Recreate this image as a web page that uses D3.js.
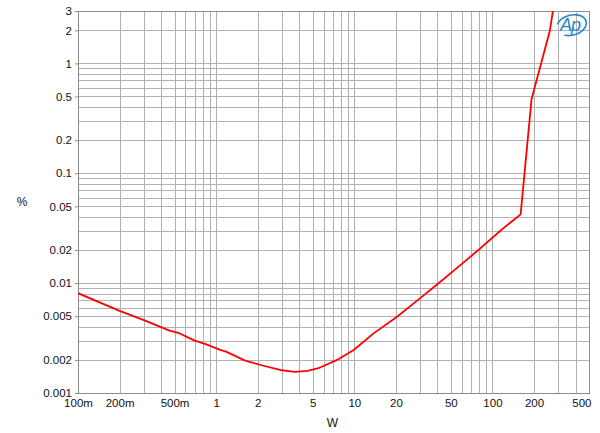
<!DOCTYPE html>
<html><head><meta charset="utf-8">
<script src="https://cdn.jsdelivr.net/npm/d3@7"></script>
<style>
body{margin:0;background:#fff;}
svg{display:block;font-family:"Liberation Sans",Arial,sans-serif;}
</style></head>
<body><svg id="c" width="600" height="433"></svg>
<script>
// Data (power in W, THD+N in %)
const powerW = [0.1, 0.2, 0.3, 0.46, 0.54, 0.7, 0.85, 1.07, 1.18, 1.62, 2.2, 2.9, 3.7, 4.6, 5.5, 7.5, 9.9, 13.8, 20.4, 30, 42, 58.6, 82, 114, 160, 192, 260, 274];
const thdPct = [0.0081, 0.0056, 0.0046, 0.0037, 0.0035, 0.0030, 0.00277, 0.00247, 0.00238, 0.00197, 0.00177, 0.00162, 0.00156, 0.00159, 0.00168, 0.0020, 0.00246, 0.00349, 0.00495, 0.0073, 0.0103, 0.0146, 0.0208, 0.0300, 0.0423, 0.475, 1.97, 3.0];
const xTickVals = [0.1, 0.2, 0.5, 1, 2, 5, 10, 20, 50, 100, 200, 500];
const xTickLabels = ["100m", "200m", "500m", "1", "2", "5", "10", "20", "50", "100", "200", "500"];
const yTickVals = [0.001, 0.002, 0.005, 0.01, 0.02, 0.05, 0.1, 0.2, 0.5, 1, 2, 3];
const yTickLabels = ["0.001", "0.002", "0.005", "0.01", "0.02", "0.05", "0.1", "0.2", "0.5", "1", "2", "3"];
const xLabel = "W", yLabel = "%";

const svg = d3.select("#c");
const L = 78, R = 589, T = 11, B = 393;
const x = d3.scaleLog().domain([0.1, 500]).range([L, R]);
const y = d3.scaleLog().domain([0.001, 3]).range([B, T]);

function minors(lo, hi) {
  const out = [];
  for (let e = -4; e <= 3; e++) for (let m = 1; m <= 9; m++) {
    const v = +(m * Math.pow(10, e)).toPrecision(6);
    if (v >= lo * 0.9999 && v <= hi * 1.0001) out.push(v);
  }
  return out;
}
const gridColor = "#b2b2b2";
const gx = svg.append("g").attr("transform", `translate(0,${B})`)
  .call(d3.axisBottom(x).tickValues(minors(0.1, 500)).tickSize(-(B - T)).tickFormat(""));
gx.select(".domain").remove();
gx.selectAll("line").attr("stroke", gridColor).attr("shape-rendering", "crispEdges");
const gy = svg.append("g").attr("transform", `translate(${L},0)`)
  .call(d3.axisLeft(y).tickValues(minors(0.001, 3)).tickSize(-(R - L)).tickFormat(""));
gy.select(".domain").remove();
gy.selectAll("line").attr("stroke", gridColor).attr("shape-rendering", "crispEdges");

// frame
svg.append("rect").attr("x", L).attr("y", T).attr("width", R - L).attr("height", B - T)
  .attr("fill", "none").attr("stroke", "#8c8c8c").attr("shape-rendering", "crispEdges");

// tick labels
const xa = svg.append("g").attr("transform", `translate(0,${B})`)
  .call(d3.axisBottom(x).tickValues(xTickVals).tickSize(0).tickPadding(14)
    .tickFormat((d, i) => xTickLabels[i]));
xa.select(".domain").remove();
xa.selectAll("text").attr("font-size", "11.5px").attr("fill", "#111").attr("font-family", "Liberation Sans, Arial, sans-serif")
  .attr("dy", "0");
xa.selectAll(".tick").filter((d, i) => i === xTickVals.length - 1).select("text")
  .attr("text-anchor", "end").attr("dx", "2");

const ya = svg.append("g").attr("transform", `translate(${L},0)`)
  .call(d3.axisLeft(y).tickValues(yTickVals).tickSize(3).tickPadding(3)
    .tickFormat((d, i) => yTickLabels[i]));
ya.select(".domain").remove();
ya.selectAll("line").attr("stroke", "#8c8c8c");
ya.selectAll("text").attr("font-size", "11.5px").attr("fill", "#111").attr("font-family", "Liberation Sans, Arial, sans-serif");

svg.append("text").attr("x", 332.5).attr("y", 427).attr("text-anchor", "middle")
  .attr("font-size", "12px").attr("fill", "#111").text(xLabel);
svg.append("text").attr("x", 22).attr("y", 206).attr("text-anchor", "middle")
  .attr("font-size", "12px").attr("fill", "#111").text(yLabel);

// curve
svg.append("clipPath").attr("id", "clip").append("rect")
  .attr("x", L).attr("y", T).attr("width", R - L).attr("height", B - T);
const pts = powerW.map((p, i) => [p, thdPct[i]]);
svg.append("path").datum(pts).attr("clip-path", "url(#clip)")
  .attr("fill", "none").attr("stroke", "#ff0000").attr("stroke-width", 1.8)
  .attr("stroke-linejoin", "round")
  .attr("d", d3.line().x(d => x(d[0])).y(d => y(d[1])).curve(d3.curveLinear));

// Ap logo
const logo = svg.append("g").attr("transform", "translate(571,25)");
logo.append("path").attr("d", "M -9 8 A 15 10 0 1 0 -13 -4").attr("fill", "none")
  .attr("stroke", "#2a86c8").attr("stroke-width", 1.6).attr("transform", "rotate(-15)");
logo.append("text").attr("x", -1).attr("y", 6).attr("text-anchor", "middle")
  .attr("font-size", "18px").attr("font-style", "italic").attr("font-family", "Liberation Sans, Arial, sans-serif")
  .attr("fill", "#2a86c8").attr("letter-spacing", "-1").text("Ap");
</script></body></html>
